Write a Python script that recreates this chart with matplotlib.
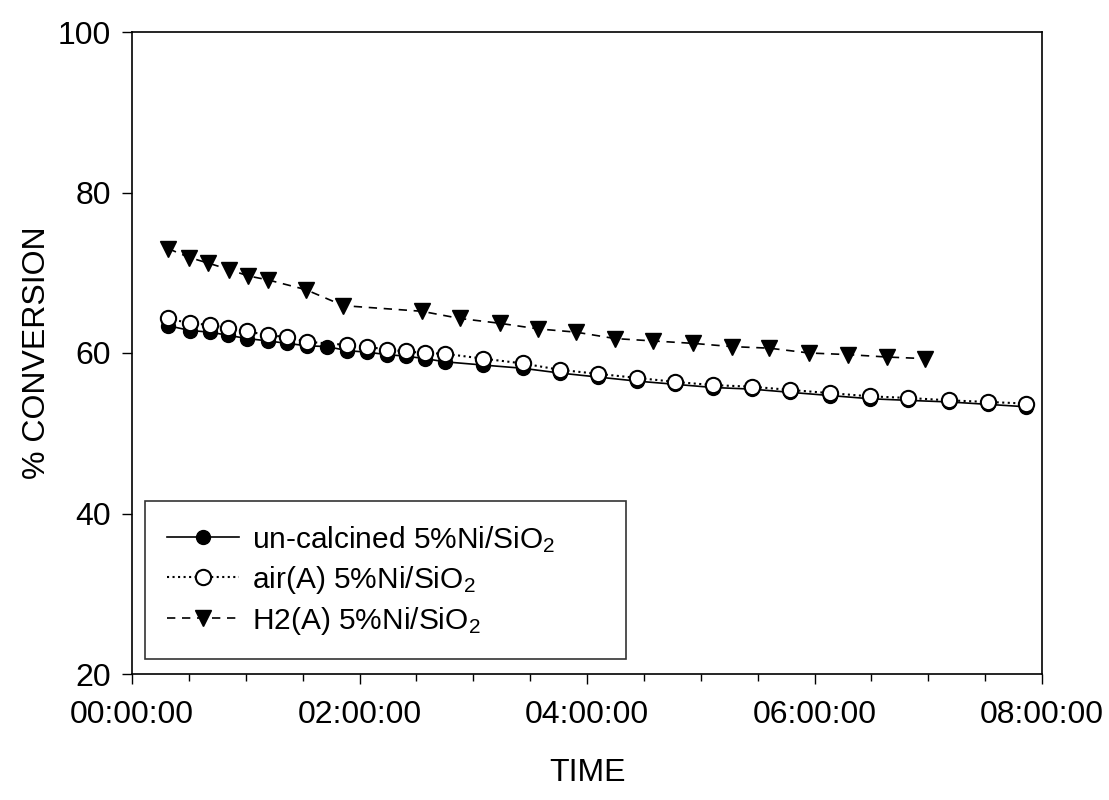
import matplotlib
matplotlib.use("Agg")
import matplotlib.pyplot as plt
from matplotlib.ticker import MultipleLocator, FuncFormatter

plt.rcParams['font.family'] = ['Liberation Sans', 'DejaVu Sans']
plt.rcParams['mathtext.default'] = 'regular'

# время в часах, конверсия в %
uncalc_t = [0.319, 0.510, 0.686, 0.847, 1.014, 1.198, 1.363, 1.538, 1.714, 1.890, 2.066,
            2.242, 2.409, 2.576, 2.752, 3.086, 3.433, 3.763, 4.099, 4.437, 4.774, 5.110,
            5.448, 5.785, 6.136, 6.488, 6.822, 7.182, 7.525, 7.859]
uncalc_v = [63.4, 62.8, 62.6, 62.2, 61.8, 61.5, 61.2, 60.9, 60.8, 60.3, 60.1,
            59.8, 59.6, 59.3, 58.9, 58.5, 58.1, 57.5, 57.0, 56.5, 56.1, 55.7,
            55.5, 55.1, 54.7, 54.3, 54.1, 53.9, 53.6, 53.3]

air_t = [0.319, 0.510, 0.686, 0.847, 1.014, 1.198, 1.363, 1.538, 1.890, 2.066,
         2.242, 2.409, 2.576, 2.752, 3.086, 3.433, 3.763, 4.099, 4.437, 4.774,
         5.110, 5.448, 5.785, 6.136, 6.488, 6.822, 7.182, 7.525, 7.859]
air_v = [64.3, 63.7, 63.5, 63.1, 62.7, 62.2, 62.0, 61.4, 61.0, 60.8,
         60.4, 60.2, 60.0, 59.9, 59.3, 58.7, 57.9, 57.4, 56.9, 56.4,
         56.0, 55.8, 55.4, 55.0, 54.6, 54.4, 54.1, 53.9, 53.7]

h2_t = [0.319, 0.504, 0.671, 0.853, 1.023, 1.198, 1.527, 1.858, 2.547, 2.884, 3.235,
        3.572, 3.903, 4.246, 4.583, 4.934, 5.272, 5.603, 5.954, 6.297, 6.635, 6.971]
h2_v = [73.0, 71.9, 71.2, 70.4, 69.6, 69.1, 67.9, 65.9, 65.2, 64.3, 63.7,
        63.0, 62.6, 61.8, 61.5, 61.2, 60.8, 60.6, 60.0, 59.8, 59.5, 59.3]

labels = ["un-calcined 5%Ni/SiO$_2$", "air(A) 5%Ni/SiO$_2$", "H2(A) 5%Ni/SiO$_2$"]

fig = plt.figure(figsize=(11.09, 8), dpi=100)
ax = fig.add_axes([132 / 1109, 1 - 674 / 800, 910 / 1109, 642 / 800])

ax.plot(uncalc_t, uncalc_v, '-', color='black', lw=1.2, marker='o', ms=10,
        mfc='black', mec='black', label=labels[0])
ax.plot(air_t, air_v, ':', color='black', lw=1.5, marker='o', ms=11,
        mfc='white', mec='black', mew=1.5, label=labels[1])
ax.plot(h2_t, h2_v, '--', color='black', lw=1.2, marker='v', ms=12,
        mfc='black', mec='black', dashes=(5, 4), label=labels[2])

ax.set_xlim(0, 8)
ax.set_ylim(20, 100)
ax.xaxis.set_major_locator(MultipleLocator(2))
ax.xaxis.set_minor_locator(MultipleLocator(0.5))
ax.yaxis.set_major_locator(MultipleLocator(20))
ax.xaxis.set_major_formatter(FuncFormatter(lambda x, pos: f"{int(round(x)):02d}:00:00"))
ax.tick_params(axis='both', which='major', direction='out', length=7, width=1,
               labelsize=23, colors='black')
ax.tick_params(axis='x', which='major', pad=12)
ax.tick_params(axis='y', which='major', pad=8)
ax.tick_params(axis='x', which='minor', direction='out', length=5, width=1)
for sp in ax.spines.values():
    sp.set_linewidth(1.2)

ax.set_xlabel("TIME", fontsize=23, labelpad=20)
ax.set_ylabel("% CONVERSION", fontsize=23, labelpad=4)

leg = ax.legend(loc='lower left', bbox_to_anchor=(13 / 910, 15 / 642, 481 / 910, 151 / 642),
                mode='expand', fontsize=21.5, frameon=True, fancybox=False, edgecolor='black',
                handlelength=2.4, handletextpad=0.45, borderpad=0.75, labelspacing=0.3,
                borderaxespad=0)
leg.get_frame().set_linewidth(1.2)

fig.savefig("out.png", dpi=100)
